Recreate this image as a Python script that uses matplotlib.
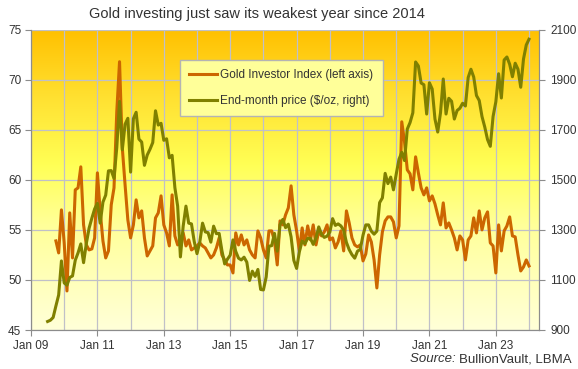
import numpy as np
import matplotlib
matplotlib.use('Agg')
import matplotlib.pyplot as plt
from matplotlib.colors import LinearSegmentedColormap
from matplotlib.lines import Line2D
from matplotlib.ticker import MultipleLocator

plt.rcParams['font.family'] = ['Liberation Sans', 'DejaVu Sans']

# Gold Investor Index, monthly from Sep 2009 (left axis)
gii_start = (2009, 9)
gii = [
    53.9, 52.7, 57.0, 53.7,                                               # 2009
    48.9, 56.7, 52.2, 59.0, 59.2, 61.3, 55.5, 53.5, 53.0, 53.1, 54.2, 60.7,  # 2010
    56.9, 53.9, 52.2, 52.9, 57.5, 59.2, 66.8, 71.8, 63.2, 59.5, 56.0, 54.2,  # 2011
    55.5, 58.0, 56.2, 56.9, 54.2, 52.4, 52.9, 53.4, 56.2, 56.7, 58.4, 55.5,  # 2012
    54.7, 53.4, 58.5, 54.4, 53.5, 53.7, 54.7, 53.4, 54.0, 53.0, 53.2, 53.4,  # 2013
    53.7, 53.4, 53.2, 52.7, 52.2, 52.5, 53.2, 54.2, 52.5, 52.0, 51.5, 51.5,  # 2014
    50.7, 54.7, 53.5, 54.5, 53.5, 54.0, 53.0, 52.5, 52.2, 54.9, 54.2, 53.0,  # 2015
    52.2, 54.9, 54.9, 53.9, 51.5, 55.9, 55.5, 56.5, 57.2, 59.4, 56.5, 54.9,  # 2016
    52.9, 55.2, 53.5, 55.4, 54.0, 55.5, 53.5, 54.9, 54.4, 54.8, 55.5, 54.0,  # 2017
    54.2, 53.2, 53.8, 54.9, 52.9, 56.9, 55.7, 54.2, 53.5, 53.3, 53.5, 51.9,  # 2018
    52.6, 54.5, 53.8, 52.0, 49.2, 52.5, 54.8, 55.9, 56.3, 56.3, 55.8, 54.2,  # 2019
    55.4, 65.8, 63.8, 61.0, 60.6, 59.0, 62.3, 60.7, 59.2, 58.5, 59.2, 57.9,  # 2020
    58.4, 57.6, 56.5, 55.5, 57.7, 55.2, 55.7, 55.0, 54.2, 53.0, 54.4, 54.0,  # 2021
    52.0, 54.0, 54.4, 56.2, 54.7, 56.9, 55.0, 56.2, 56.8, 53.7, 53.4, 50.7,  # 2022
    55.5, 52.9, 54.9, 55.4, 56.3, 54.4, 54.3, 52.5, 50.9, 51.3, 52.0, 51.4,  # 2023
]

# End-month gold price $/oz, monthly from Jun 2009 (right axis)
price_start = (2009, 6)
price = [
    934, 939, 950, 996, 1040, 1176, 1088,                                  # 2009
    1079, 1110, 1116, 1179, 1208, 1244, 1169, 1246, 1307, 1347, 1384, 1406,  # 2010
    1327, 1411, 1439, 1536, 1537, 1506, 1629, 1814, 1620, 1722, 1746, 1531,  # 2011
    1744, 1770, 1663, 1651, 1558, 1599, 1622, 1649, 1776, 1719, 1726, 1658,  # 2012
    1664, 1588, 1598, 1469, 1395, 1192, 1315, 1395, 1327, 1324, 1253, 1205,  # 2013
    1251, 1327, 1292, 1289, 1251, 1315, 1285, 1286, 1217, 1164, 1183, 1199,  # 2014
    1260, 1214, 1187, 1180, 1191, 1171, 1098, 1135, 1114, 1142, 1062, 1060,  # 2015
    1112, 1235, 1237, 1286, 1215, 1321, 1342, 1309, 1323, 1272, 1178, 1146,  # 2016
    1213, 1256, 1245, 1266, 1266, 1242, 1268, 1312, 1283, 1270, 1275, 1291,  # 2017
    1345, 1318, 1324, 1316, 1299, 1250, 1221, 1201, 1187, 1215, 1222, 1279,  # 2018
    1320, 1320, 1295, 1283, 1295, 1409, 1428, 1526, 1485, 1511, 1460, 1523,  # 2019
    1582, 1610, 1577, 1703, 1729, 1768, 1971, 1955, 1887, 1880, 1763, 1888,  # 2020
    1863, 1743, 1691, 1768, 1903, 1763, 1826, 1814, 1743, 1777, 1786, 1806,  # 2021
    1795, 1909, 1942, 1911, 1837, 1817, 1753, 1711, 1661, 1634, 1753, 1812,  # 2022
    1924, 1827, 1979, 1991, 1962, 1912, 1966, 1942, 1870, 1983, 2039, 2062,  # 2023
]

tick_years = list(range(2009, 2024, 2))
tick_labels = ["Jan %02d" % (y % 100) for y in tick_years]

C_GII = '#CC6600'
C_PRICE = '#808000'
C_TEXT = '#333333'
C_GRID = '#C0C0C8'
C_SPINE = '#8C8C8C'


def month_ends(start, n):
    y, m = start
    idx = (y - 2009) * 12 + (m - 1) + np.arange(n)
    return 2009 + (idx + 1) / 12.0


fig = plt.figure(figsize=(5.78, 3.69), dpi=100)
L, R, T, B = 31 / 578, 539 / 578, 1 - 29.7 / 369, 1 - 330 / 369
ax = fig.add_axes([L, B, R - L, T - B])

# yellow gradient background
grad = LinearSegmentedColormap.from_list('bg', [
    (0.0, '#FFFFD8'), (0.35, '#FFFF99'), (0.55, '#FFFF55'),
    (0.78, '#FFE030'), (1.0, '#FFC000')])
ax.imshow(np.linspace(0, 1, 256).reshape(-1, 1), cmap=grad, origin='lower',
          extent=[0, 1, 0, 1], transform=ax.transAxes, aspect='auto', zorder=0)

ax.plot(month_ends(gii_start, len(gii)), gii, color=C_GII, lw=2.2,
        solid_joinstyle='round', zorder=3)
ax.set_xlim(2009, 2024.3)
ax.set_ylim(45, 75)
ax.set_yticks(range(45, 76, 5))
ax.set_xticks(tick_years)
ax.set_xticklabels(tick_labels)
ax.xaxis.set_minor_locator(MultipleLocator(1))
ax.grid(True, which='both', axis='x', color=C_GRID, lw=0.9, zorder=1)
ax.grid(True, which='major', axis='y', color=C_GRID, lw=0.9, zorder=1)
ax.tick_params(which='major', direction='out', length=4, color=C_SPINE,
               labelsize=8.5, labelcolor=C_TEXT, pad=3)
ax.tick_params(which='minor', length=0)

ax2 = ax.twinx()
ax2.plot(month_ends(price_start, len(price)), price, color=C_PRICE, lw=2.2,
         solid_joinstyle='round')
ax2.set_ylim(900, 2100)
ax2.set_yticks(range(900, 2101, 200))
ax2.tick_params(direction='out', length=4, color=C_SPINE,
                labelsize=8.5, labelcolor=C_TEXT, pad=4)

for a in (ax, ax2):
    a.spines['top'].set_visible(False)
    for s in ('left', 'right', 'bottom'):
        a.spines[s].set_color(C_SPINE)

handles = [Line2D([], [], color=C_GII, lw=2.2), Line2D([], [], color=C_PRICE, lw=2.2)]
labels = ['Gold Investor Index (left axis)', 'End-month price ($/oz, right)']
leg = ax2.legend(handles, labels, loc='upper left',
                 bbox_to_anchor=(174 / 578, 1 - 54 / 369), bbox_transform=fig.transFigure,
                 fancybox=False, framealpha=1, facecolor='#FFFF99', edgecolor='#B4B4B4',
                 fontsize=8.5, handlelength=2.3, labelspacing=1.15, borderpad=0.8,
                 handletextpad=0.3)
for t in leg.get_texts():
    t.set_color(C_TEXT)
leg.get_frame().set_linewidth(1.0)

fig.text(257 / 578, 1 - 14 / 369, 'Gold investing just saw its weakest year since 2014',
         ha='center', va='center', fontsize=10.5, color=C_TEXT)

src = fig.text(572 / 578, 1 - 359 / 369, 'BullionVault, LBMA', ha='right', va='center',
               fontsize=9.5, color=C_TEXT)
ax.annotate('Source: ', xy=(0, 0.5), xycoords=src, ha='right', va='center',
            fontsize=9.5, color=C_TEXT, style='italic', annotation_clip=False)

fig.savefig('out.png', dpi=100)
